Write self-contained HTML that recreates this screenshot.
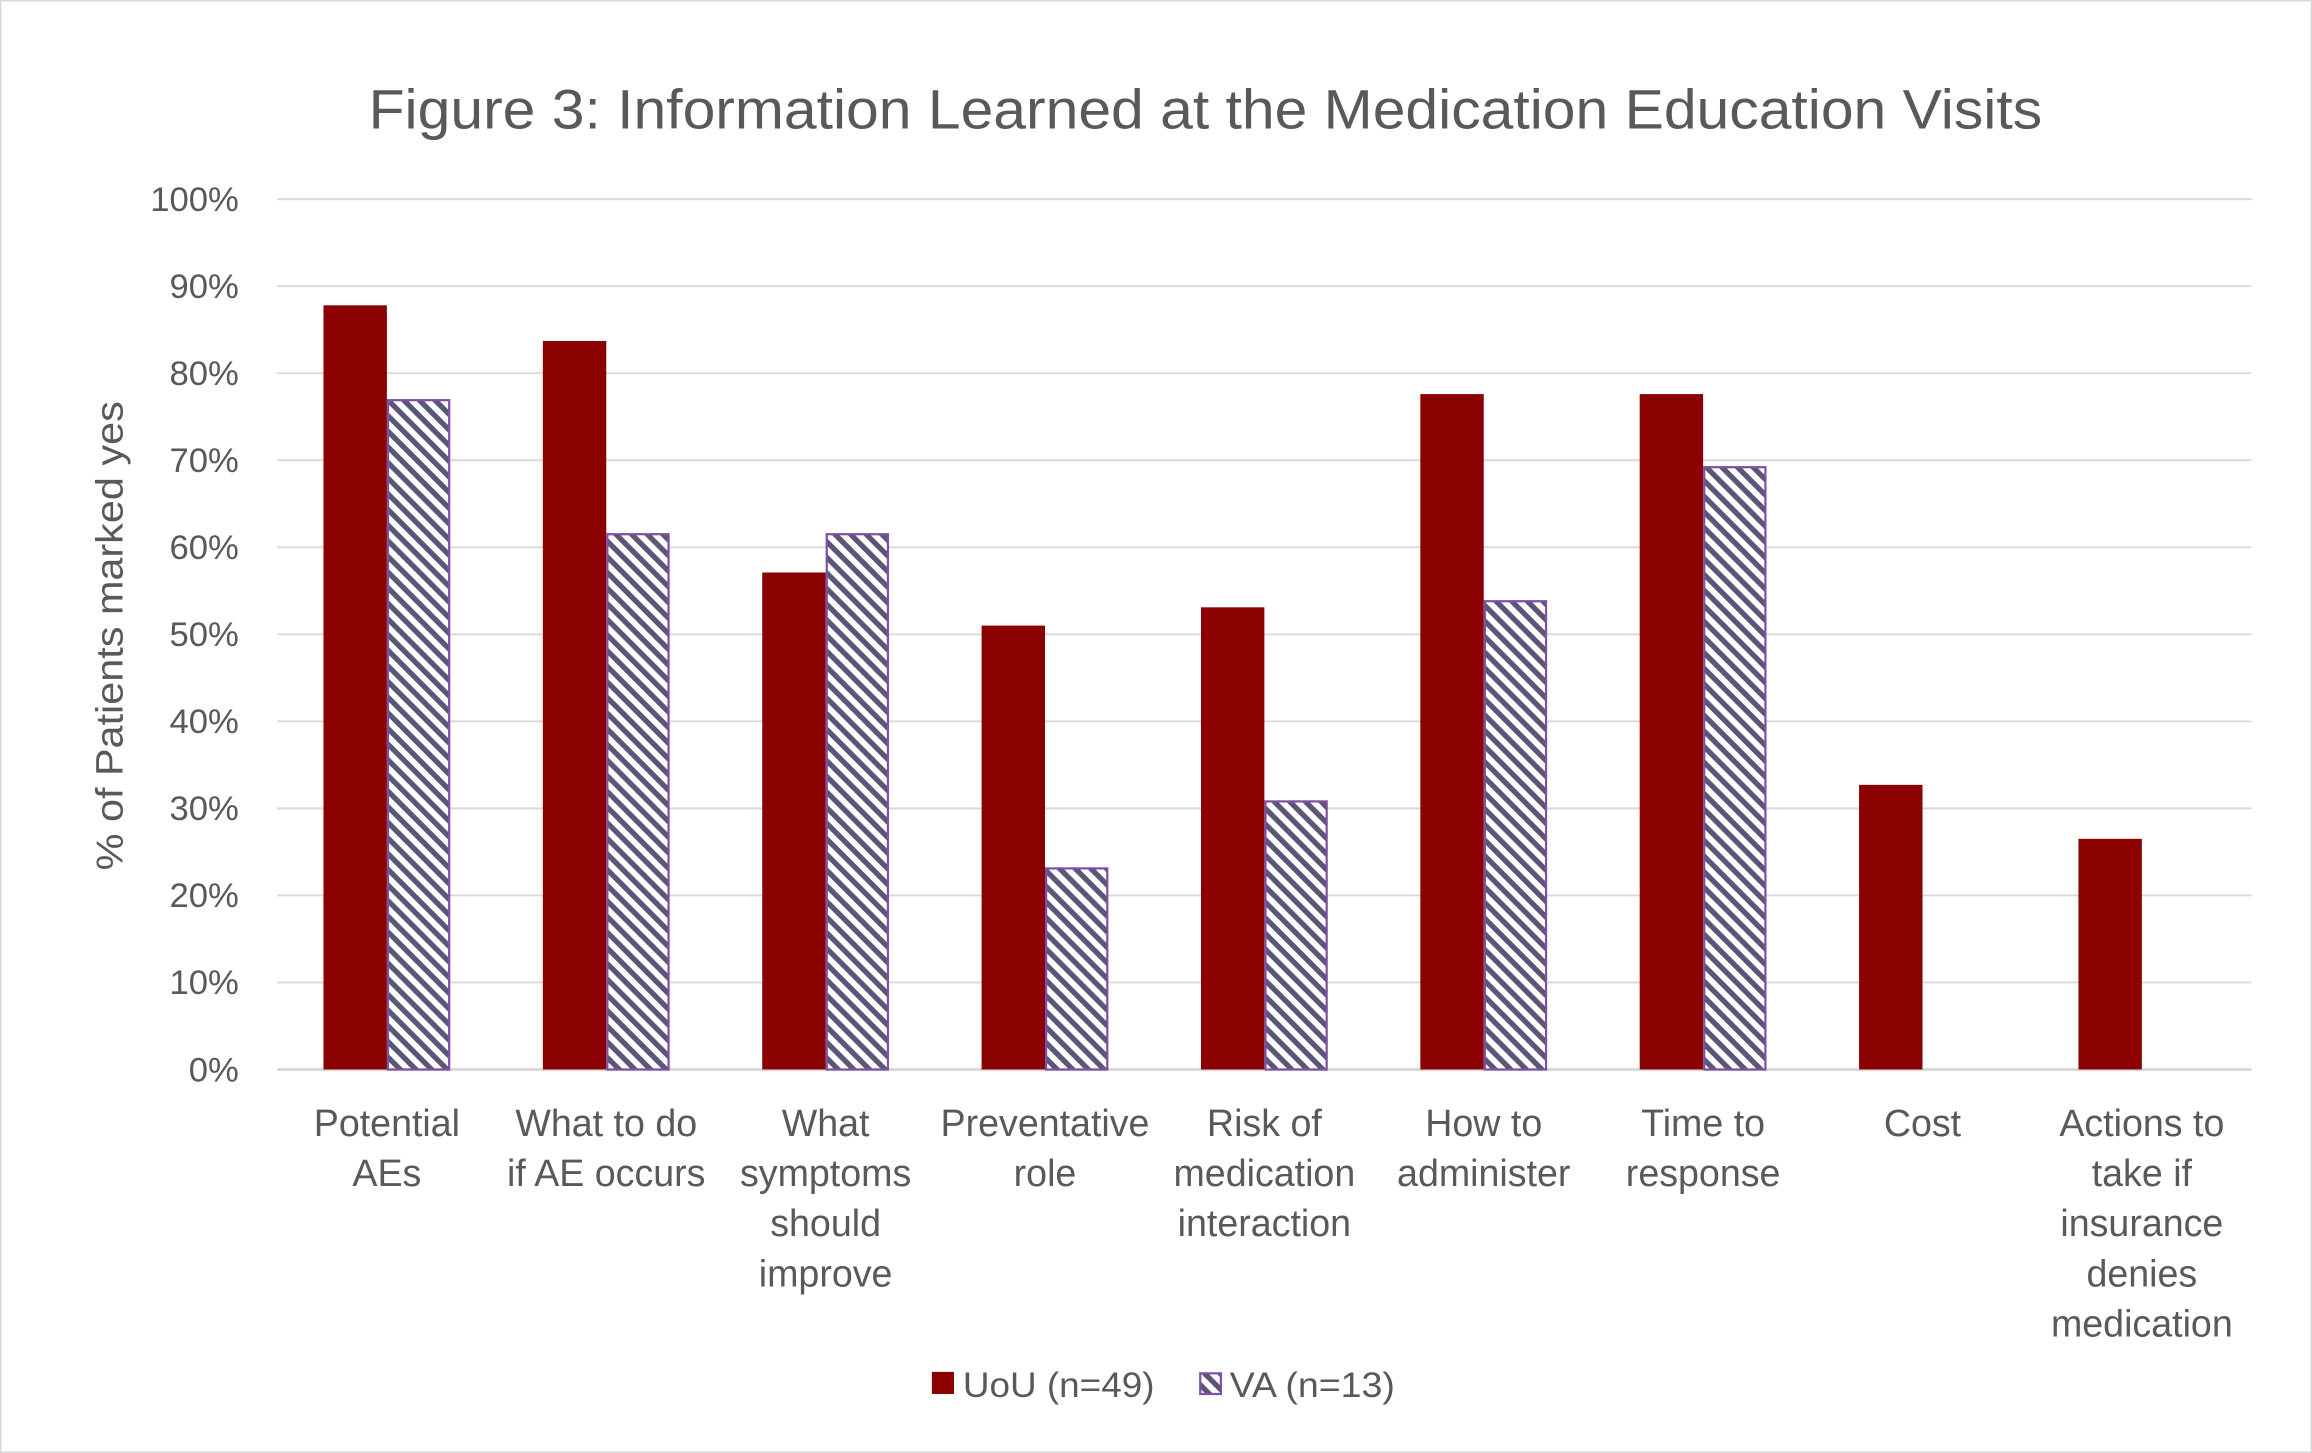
<!DOCTYPE html>
<html><head><meta charset="utf-8"><style>
html,body{margin:0;padding:0;background:#fff;}
svg{display:block;}
text{font-family:"Liberation Sans",sans-serif;fill:#595959;}
</style></head><body>
<svg id="chart" width="2312" height="1453" viewBox="0 0 1568 985" preserveAspectRatio="none" xmlns="http://www.w3.org/2000/svg">
<defs>
<pattern id="hatch" patternUnits="userSpaceOnUse" width="7.5" height="7.5" patternTransform="rotate(-45)">
<rect width="7.5" height="7.5" fill="#fff"/>
<rect width="3.6" height="7.5" fill="#5b5577"/>
</pattern>
</defs>
<rect x="0.5" y="0.5" width="1567" height="984" fill="#fff" stroke="#d9d9d9"/>
<text x="250" y="87" font-size="38" textLength="1135" lengthAdjust="spacingAndGlyphs">Figure 3: Information Learned at the Medication Education Visits</text>
<text transform="translate(83,431) rotate(-90)" font-size="26" text-anchor="middle" textLength="318" lengthAdjust="spacingAndGlyphs">% of Patients marked yes</text>
<g id="grid"></g><g id="bars"></g><g id="labels"></g>
<g>
<rect x="632" y="930" width="15" height="15" fill="#8b0000"/>
<text x="653" y="947" font-size="24" textLength="130" lengthAdjust="spacingAndGlyphs">UoU (n=49)</text>
<rect x="814" y="931" width="14" height="14" fill="url(#hatch)" stroke="#7e4fa6" stroke-width="1.5"/>
<text x="834" y="947" font-size="24" textLength="112" lengthAdjust="spacingAndGlyphs">VA (n=13)</text>
</g>
</svg>
<script>
const categories=[["Potential","AEs"],["What to do","if AE occurs"],["What","symptoms","should","improve"],["Preventative","role"],["Risk of","medication","interaction"],["How to","administer"],["Time to","response"],["Cost"],["Actions to","take if","insurance","denies","medication"]];
const uouValues=[87.8,83.7,57.1,51.0,53.1,77.6,77.6,32.7,26.5];
const vaValues=[76.9,61.5,61.5,23.1,30.8,53.8,69.2,0,0];
const yTicks=[0,10,20,30,40,50,60,70,80,90,100];
const NS="http://www.w3.org/2000/svg";
const X0=188,X1=1527,Y0=725,Y100=135;
const y=v=>Y0-(v/100)*(Y0-Y100);
const bandW=(X1-X0)/categories.length;
const cx=i=>X0+bandW*(i+0.5);
const barW=43;
function mk(tag,attrs,parent){const e=document.createElementNS(NS,tag);for(const k in attrs)e.setAttribute(k,attrs[k]);parent.appendChild(e);return e;}
const grid=document.getElementById('grid'),bars=document.getElementById('bars'),labels=document.getElementById('labels');
yTicks.forEach(t=>{
 const l=mk('line',{x1:X0,x2:X1,y1:y(t),y2:y(t),stroke:'#d9d9d9','stroke-width':t===0?2:1.3},grid);
 
 
 const tx=mk('text',{x:162,y:y(t)+8,'font-size':23.5,'text-anchor':'end'},grid);
 tx.textContent=t+'%';
 
 
});
categories.forEach((c,i)=>{
 const u=uouValues[i],v=vaValues[i];
 const r=mk('rect',{x:cx(i)-barW,y:y(u),width:barW,height:Y0-y(u),fill:'#8b0000'},bars);
 
 
 if(v>0){
  const h=mk('rect',{x:cx(i)+0.75,y:y(v),width:barW-1.5,height:Y0-y(v),fill:'url(#hatch)',stroke:'#7e4fa6','stroke-width':1.5},bars);
  
  
 }
 const t=mk('text',{x:cx(i),'font-size':25.5,'text-anchor':'middle'},labels);
 
 
 c.forEach((line,j)=>{const s=mk('tspan',{x:cx(i),y:770+34*j},t);s.textContent=line;});
});
</script>
</body></html>
